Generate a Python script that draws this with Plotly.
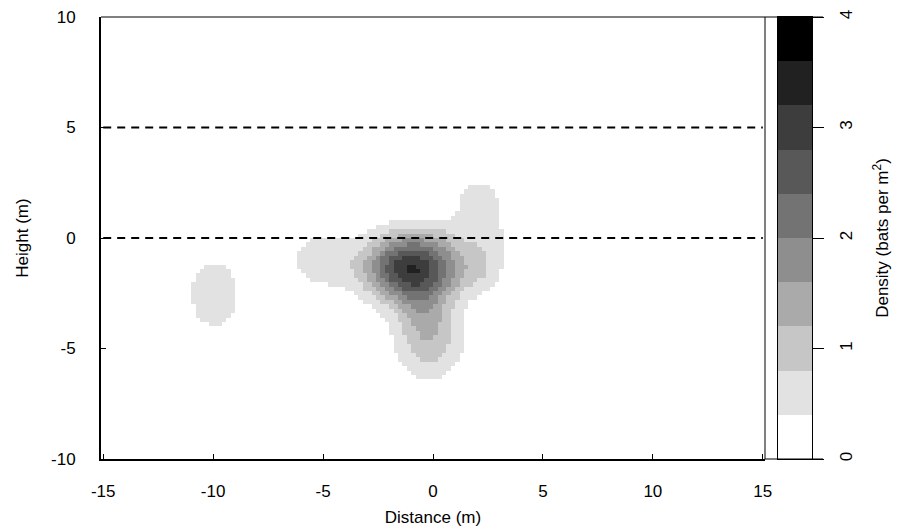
import numpy as np
import plotly.graph_objects as go

# Axis ticks
x_ticks = [-15, -10, -5, 0, 5, 10, 15]
y_ticks = [-10, -5, 0, 5, 10]
key_ticks = [0, 1, 2, 3, 4]

# Reference heights drawn as dashed lines (m)
ref_heights = [0, 5]

# Density bands (bats per m^2) and their grey shades
band_edges = [0.0, 0.4, 0.8, 1.2, 1.6, 2.0, 2.4, 2.8, 3.2, 3.6, 4.0]
band_grey = [255, 226, 198, 170, 142, 115, 88, 61, 33, 0]

# Kernel components of the density surface: centre (m), spread (m), peak (bats per m^2)
bump_x = [-1.1, 0.9, 2.5, 2.35, 2.05, -5.1, -0.2, -0.5, 0.2, -9.95]
bump_y = [-1.35, -1.3, -0.1, -1.6, 1.6, -1.0, -4.4, -3.0, 0.1, -2.55]
bump_sx = [1.4, 0.8, 0.7, 0.7, 0.8, 1.05, 1.1, 0.7, 1.0, 0.95]
bump_sy = [1.05, 0.8, 0.9, 0.75, 0.9, 0.95, 1.4, 0.8, 0.6, 1.3]
bump_peak = [3.12, 0.45, 0.46, 0.46, 0.64, 0.66, 1.15, 0.38, 0.28, 0.72]

cell = 0.2
xc = np.arange(-15 + cell / 2, 15, cell)
yc = np.arange(-10 + cell / 2, 10, cell)
XX, YY = np.meshgrid(xc, yc)
dens = np.zeros_like(XX)
for cx, cy, sx, sy, a in zip(bump_x, bump_y, bump_sx, bump_sy, bump_peak):
    dens += a * np.exp(-((XX - cx) ** 2 / (2 * sx ** 2) + (YY - cy) ** 2 / (2 * sy ** 2)))

# Stepped grey scale
zmin, zmax = band_edges[0], band_edges[-1]
colorscale = []
for i, g in enumerate(band_grey):
    c = f"rgb({g},{g},{g})"
    colorscale.append([(band_edges[i] - zmin) / (zmax - zmin), c])
    colorscale.append([(band_edges[i + 1] - zmin) / (zmax - zmin), c])

FONT = "Liberation Sans, Arial, sans-serif"

fig = go.Figure()
fig.add_trace(go.Heatmap(
    x=xc, y=yc, z=dens, zmin=zmin, zmax=zmax, colorscale=colorscale,
    zsmooth=False, showscale=False, hoverinfo="skip",
))
for h in ref_heights:
    fig.add_trace(go.Scatter(
        x=[-15, 15], y=[h, h], mode="lines",
        line=dict(color="black", width=2, dash="8px,6px"),
        showlegend=False, hoverinfo="skip",
    ))

# Density key
mids = [[(band_edges[i] + band_edges[i + 1]) / 2] for i in range(len(band_grey))]
fig.add_trace(go.Heatmap(
    x=[0, 1], y=band_edges, z=mids, zmin=zmin, zmax=zmax, colorscale=colorscale,
    showscale=False, hoverinfo="skip", xaxis="x2", yaxis="y2",
))

W, H = 900, 532
left, right_edge, top, bottom = 101, 823, 17, 459
span = right_edge - left
plot_end = (765 - left) / span
key_l = (778 - left) / span
key_r = (812 - left) / span

axis_font = dict(family=FONT, size=17, color="black")

fig.update_layout(
    width=W, height=H,
    margin=dict(l=left, r=W - right_edge, t=top, b=H - bottom, autoexpand=False),
    paper_bgcolor="white", plot_bgcolor="white",
    font=axis_font,
    showlegend=False,
    xaxis=dict(
        domain=[0, plot_end], range=[-15.1, 15.1], automargin=False,
        tickvals=x_ticks, ticktext=[str(v) for v in x_ticks],
        ticks="inside", ticklen=5, tickwidth=1, tickcolor="black",
        showline=True, linewidth=2, linecolor="black", mirror=False,
        showgrid=False, zeroline=False, ticklabelstandoff=16,
        title=dict(text="Distance (m)", standoff=11, font=axis_font),
    ),
    yaxis=dict(
        domain=[0, 1], range=[-10, 10], automargin=False,
        tickvals=y_ticks, ticktext=[str(v) for v in y_ticks],
        ticks="inside", ticklen=5, tickwidth=1, tickcolor="black",
        showline=True, linewidth=2, linecolor="black", mirror=False,
        showgrid=False, zeroline=False, ticklabelstandoff=20,
        title=dict(text="Height (m)", standoff=18, font=axis_font),
    ),
    xaxis2=dict(
        domain=[key_l, key_r], range=[0, 1], anchor="y2", automargin=False,
        showticklabels=False, ticks="", showgrid=False, zeroline=False,
        showline=True, linewidth=1, linecolor="black", mirror=True,
    ),
    yaxis2=dict(
        domain=[0, 1], range=[0, 4], anchor="x2", side="right", automargin=False,
        tickvals=key_ticks, ticktext=[str(v) for v in key_ticks],
        ticks="outside", ticklen=11, tickwidth=1,
        tickcolor="black", tickangle=-90, ticklabelstandoff=8,
        showline=True, linewidth=1, linecolor="black", mirror=True,
        showgrid=False, zeroline=False,
        title=dict(text="Density (bats per m<sup>2</sup>)", standoff=20, font=axis_font),
    ),
    shapes=[
        dict(type="line", xref="paper", yref="paper", x0=0, x1=1, y0=1, y1=1,
             line=dict(color="black", width=1)),
        dict(type="line", xref="paper", yref="paper", x0=plot_end, x1=1, y0=0, y1=0,
             line=dict(color="black", width=1)),
        dict(type="line", xref="paper", yref="paper", x0=plot_end, x1=plot_end, y0=0, y1=1,
             line=dict(color="black", width=1)),
    ],
)

fig.write_html("out.html")
